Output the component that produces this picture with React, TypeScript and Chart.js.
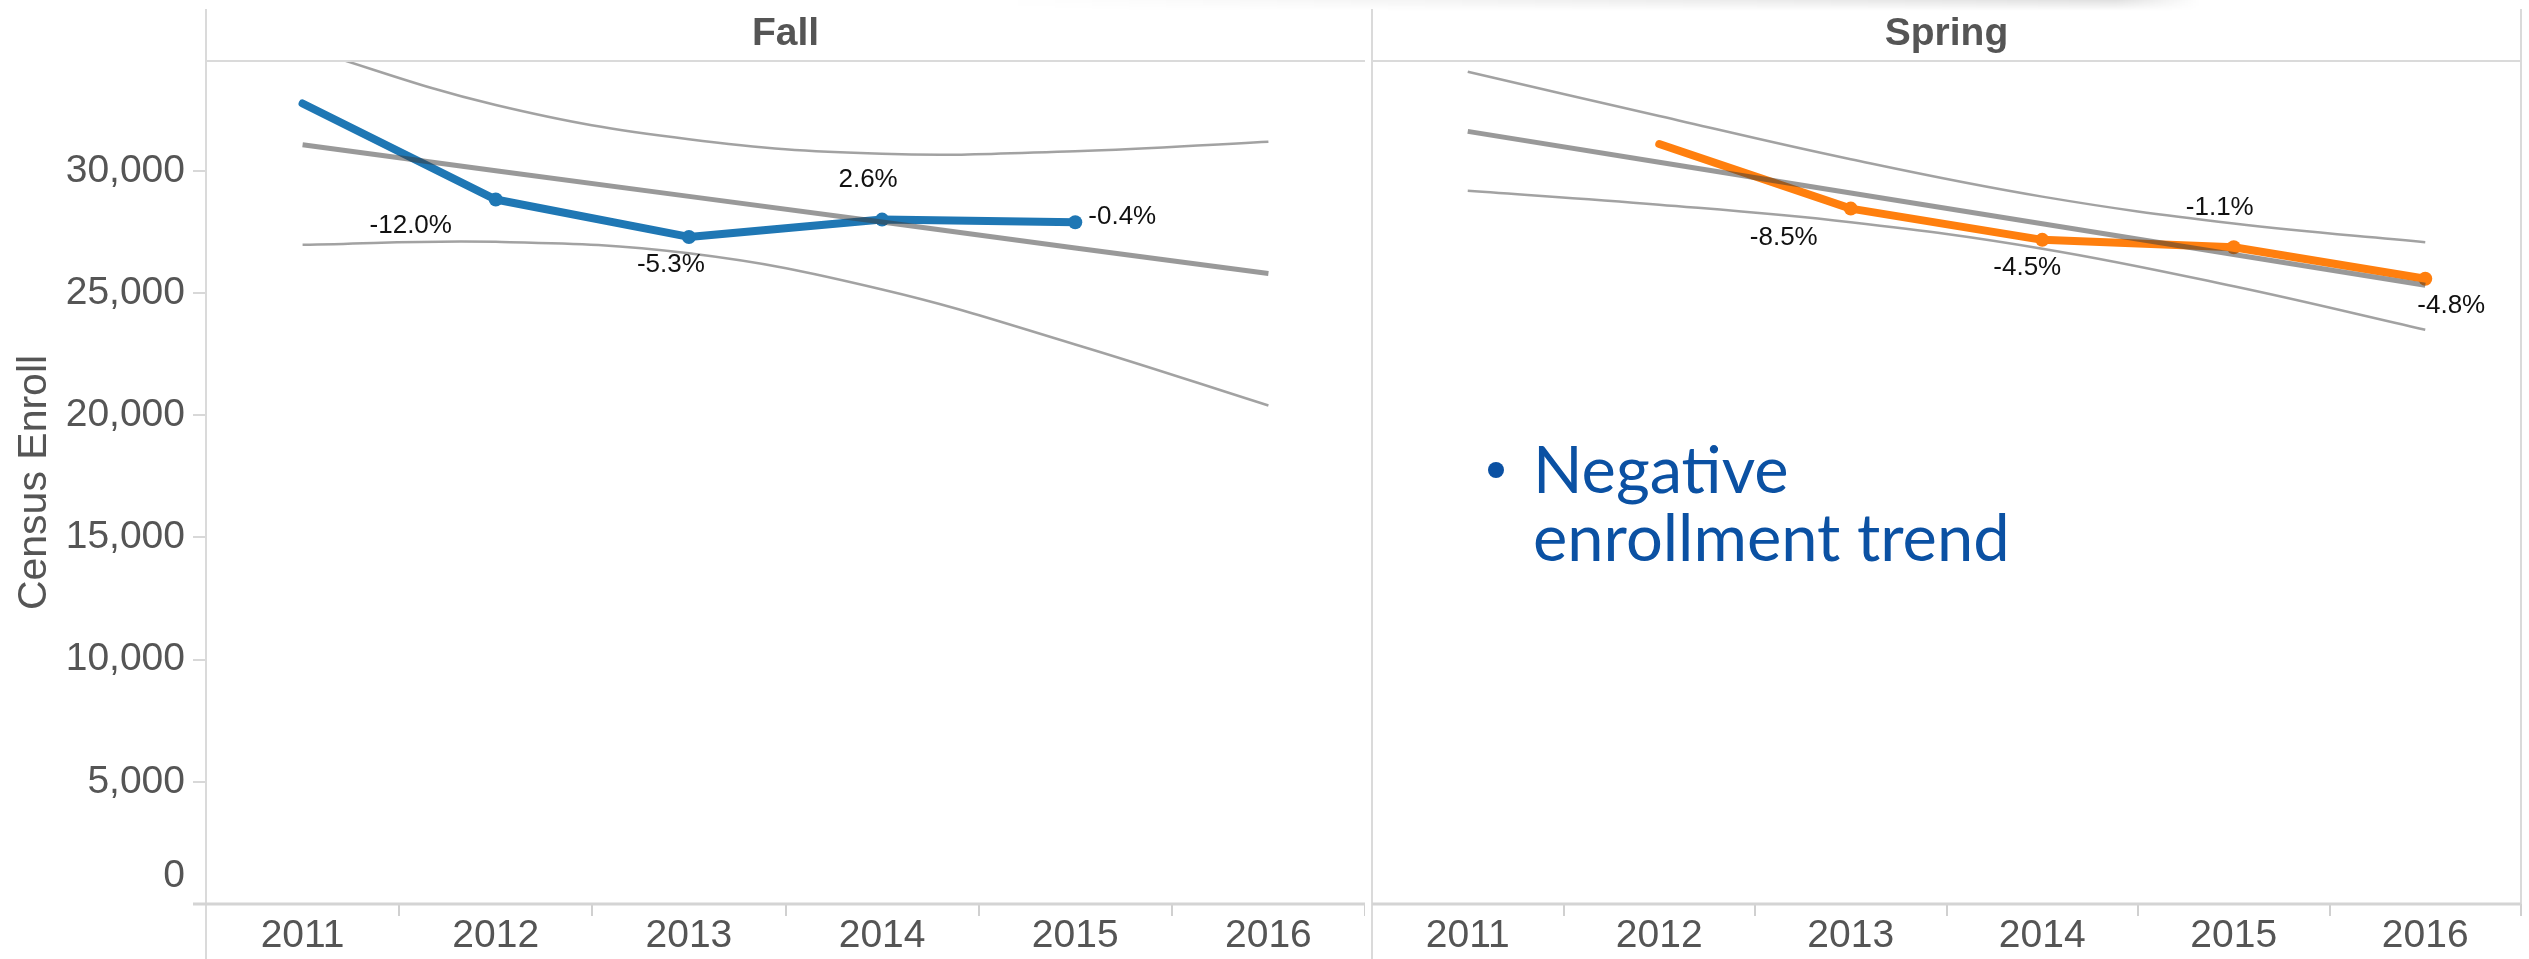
import React, { useEffect, useRef } from 'react';
import { Chart, registerables } from 'chart.js';

Chart.register(...registerables);

// ---------- data ----------
const YEARS = ['2011', '2012', '2013', '2014', '2015', '2016'];
const PANEL_TITLES = ['Fall', 'Spring'];
const Y_AXIS_TITLE = 'Census Enroll';
const Y_MIN = 0;
const Y_MAX = 34500;
const Y_TICKS = [0, 5000, 10000, 15000, 20000, 25000, 30000];

const FALL_ENROLL = [32760, 28830, 27300, 28010, 27900, null];
const FALL_TREND = [31070, 30010, 28960, 27910, 26850, 25800];
const FALL_UPPER = [35050, 32700, 31300, 30700, 30810, 31200];
const FALL_LOWER = [26980, 27100, 26630, 25150, 22900, 20400];
const FALL_PCT = ['', '-12.0%', '-5.3%', '2.6%', '-0.4%', ''];

const SPRING_ENROLL = [null, 31100, 28460, 27180, 26880, 25590];
const SPRING_TREND = [31620, 30360, 29100, 27840, 26580, 25320];
const SPRING_UPPER = [34060, 32250, 30480, 28950, 27850, 27080];
const SPRING_LOWER = [29190, 28620, 27900, 26820, 25280, 23500];
const SPRING_PCT = ['', '', '-8.5%', '-4.5%', '-1.1%', '-4.8%'];

const NOTE_LINES = ['Negative', 'enrollment trend'];

// ---------- style ----------
const FONT = "'Liberation Sans', Arial, sans-serif";
const GRAY_TEXT = '#555555';
const FRAME = '#dadada';
const BLUE = '#1f77b4';
const ORANGE = '#ff7f0e';
const TREND = 'rgba(60,60,60,0.52)';
const BAND = 'rgba(60,60,60,0.48)';
// label placement relative to its point (dx, dy) in pixels
const FALL_LABEL_OFFSETS = [null, [-85, 26], [-18, 28], [-14, -40], [47, -5], null];
const SPRING_LABEL_OFFSETS = [null, null, [-67, 29], [-15, 28], [-14, -39], [26, 27]];

Chart.defaults.font.family = FONT;

type Panel = {
  title: string;
  enroll: (number | null)[];
  trend: number[];
  upper: number[];
  lower: number[];
  pct: string[];
  offsets: (number[] | null)[];
  color: string;
  showY: boolean;
};

function makeConfig(p: Panel): any {
  const line = (x1: number, y1: number, x2: number, y2: number, ctx: any) => {
    ctx.beginPath();
    ctx.moveTo(x1, y1);
    ctx.lineTo(x2, y2);
    ctx.stroke();
  };
  const plugin = {
    id: 'panelDecor' + p.title,
    afterDatasetsDraw(chart: any) {
      const ctx = chart.ctx;
      const meta = chart.getDatasetMeta(1);
      ctx.save();
      ctx.font = `26px ${FONT}`;
      ctx.fillStyle = '#111111';
      ctx.textAlign = 'center';
      ctx.textBaseline = 'middle';
      p.pct.forEach((txt, i) => {
        const off = p.offsets[i];
        const el = meta.data[i];
        if (!txt || !off || !el) return;
        ctx.fillText(txt, el.x + off[0], el.y + off[1]);
      });
      ctx.restore();
    },
    afterDraw(chart: any) {
      const { ctx, chartArea: a } = chart;
      ctx.save();
      ctx.strokeStyle = FRAME;
      ctx.lineWidth = 2;
      line(a.left, a.top, a.right, a.top, ctx);
      line(a.left, 9, a.left, chart.height, ctx);
      if (!p.showY) line(a.right, 9, a.right, a.bottom, ctx);
      ctx.strokeStyle = '#d4d4d4';
      ctx.lineWidth = 3;
      line(p.showY ? a.left - 13 : a.left, a.bottom, a.right, a.bottom, ctx);
      ctx.fillStyle = GRAY_TEXT;
      ctx.font = `bold 39px ${FONT}`;
      ctx.textAlign = 'center';
      ctx.textBaseline = 'middle';
      ctx.fillText(p.title, (a.left + a.right) / 2, 34);
      if (p.showY) {
        const y0 = chart.scales.y.getPixelForValue(0);
        ctx.font = `39px ${FONT}`;
        ctx.textAlign = 'right';
        ctx.fillText('0', a.left - 21, y0 - 28);
      }
      ctx.restore();
    },
  };

  const ptRadius = (ctx: any) => {
    const i = ctx.dataIndex;
    const d = p.enroll;
    return i > 0 && d[i] != null && d[i - 1] != null ? 7 : 0;
  };

  return {
    type: 'line',
    data: {
      labels: YEARS,
      datasets: [
        {
          label: 'Trend',
          data: p.trend,
          borderColor: TREND,
          borderWidth: 5,
          pointRadius: 0,
          tension: 0,
          order: 0,
          clip: 0,
        },
        {
          label: 'Census Enroll',
          data: p.enroll,
          borderColor: p.color,
          backgroundColor: p.color,
          borderWidth: 8,
          borderCapStyle: 'round',
          borderJoinStyle: 'round',
          pointRadius: ptRadius,
          pointBorderWidth: 0,
          pointBackgroundColor: p.color,
          tension: 0,
          order: 1,
          spanGaps: false,
        },
        {
          label: 'Upper',
          data: p.upper,
          borderColor: BAND,
          borderWidth: 2.5,
          pointRadius: 0,
          tension: 0.4,
          order: 2,
          clip: 0,
        },
        {
          label: 'Lower',
          data: p.lower,
          borderColor: BAND,
          borderWidth: 2.5,
          pointRadius: 0,
          tension: 0.4,
          order: 2,
          clip: 0,
        },
      ],
    },
    options: {
      animation: false,
      responsive: false,
      devicePixelRatio: 1,
      layout: { padding: { top: 61, left: p.showY ? 0 : 1, right: p.showY ? 0 : 8, bottom: 0 } },
      plugins: { legend: { display: false }, tooltip: { enabled: false } },
      scales: {
        x: {
          type: 'category',
          offset: true,
          grid: {
            offset: true,
            drawOnChartArea: false,
            drawTicks: true,
            tickLength: 12,
            color: '#d0d0d0',
            lineWidth: 2,
          },
          border: { display: false },
          ticks: {
            color: GRAY_TEXT,
            font: { size: 39 },
            padding: -3,
            maxRotation: 0,
            autoSkip: false,
          },
          afterFit: (s: any) => {
            s.height = 55;
          },
        },
        y: {
          display: p.showY,
          min: Y_MIN,
          max: Y_MAX,
          grid: {
            drawOnChartArea: false,
            drawTicks: true,
            tickLength: 13,
            color: '#d8d8d8',
            lineWidth: 2,
          },
          border: { display: false },
          afterBuildTicks: (s: any) => {
            s.ticks = Y_TICKS.map((v) => ({ value: v }));
          },
          ticks: {
            color: GRAY_TEXT,
            font: { size: 39 },
            padding: 8,
            callback: (v: any) => (v === 0 ? '' : Number(v).toLocaleString('en-US')),
          },
          title: {
            display: true,
            text: Y_AXIS_TITLE,
            color: GRAY_TEXT,
            font: { size: 41 },
            padding: { top: 10, bottom: 0 },
          },
          afterFit: (s: any) => {
            s.width = p.showY ? 206 : 0;
          },
        },
      },
    },
    plugins: [plugin],
  };
}

const PANELS: Panel[] = [
  {
    title: PANEL_TITLES[0],
    enroll: FALL_ENROLL,
    trend: FALL_TREND,
    upper: FALL_UPPER,
    lower: FALL_LOWER,
    pct: FALL_PCT,
    offsets: FALL_LABEL_OFFSETS,
    color: BLUE,
    showY: true,
  },
  {
    title: PANEL_TITLES[1],
    enroll: SPRING_ENROLL,
    trend: SPRING_TREND,
    upper: SPRING_UPPER,
    lower: SPRING_LOWER,
    pct: SPRING_PCT,
    offsets: SPRING_LABEL_OFFSETS,
    color: ORANGE,
    showY: false,
  },
];

export default function App() {
  const leftRef = useRef<HTMLCanvasElement | null>(null);
  const rightRef = useRef<HTMLCanvasElement | null>(null);

  useEffect(() => {
    const charts: Chart[] = [];
    if (leftRef.current) charts.push(new Chart(leftRef.current, makeConfig(PANELS[0])));
    if (rightRef.current) charts.push(new Chart(rightRef.current, makeConfig(PANELS[1])));
    return () => charts.forEach((c) => c.destroy());
  }, []);

  return (
    <div
      style={{
        position: 'absolute',
        left: 0,
        top: 0,
        width: 2529,
        height: 959,
        background: '#ffffff',
        overflow: 'hidden',
      }}
    >
      <div
        style={{
          position: 'absolute',
          left: 1000,
          top: 0,
          width: 1200,
          height: 11,
          background:
            'linear-gradient(to right, rgba(0,0,0,0) 0%, rgba(0,0,0,0.10) 80%, rgba(0,0,0,0.12) 93%, rgba(0,0,0,0) 100%)',
          WebkitMaskImage: 'linear-gradient(to bottom, black 0%, transparent 100%)',
          maskImage: 'linear-gradient(to bottom, black 0%, transparent 100%)',
        }}
      />
      <canvas
        ref={leftRef}
        width={1365}
        height={959}
        style={{ position: 'absolute', left: 0, top: 0, width: 1365, height: 959 }}
      />
      <canvas
        ref={rightRef}
        width={1164}
        height={959}
        style={{ position: 'absolute', left: 1365, top: 0, width: 1164, height: 959 }}
      />
      <div
        style={{
          position: 'absolute',
          left: 1488,
          top: 462,
          width: 16,
          height: 16,
          borderRadius: '50%',
          background: '#0b51a3',
        }}
      />
      <div
        style={{
          position: 'absolute',
          left: 1533,
          top: 434,
          fontFamily: 'Lato, "Open Sans", sans-serif',
          fontSize: 65,
          lineHeight: '68px',
          color: '#0b51a3',
          whiteSpace: 'nowrap',
        }}
      >
        {NOTE_LINES.map((t) => (
          <div key={t}>{t}</div>
        ))}
      </div>
    </div>
  );
}
